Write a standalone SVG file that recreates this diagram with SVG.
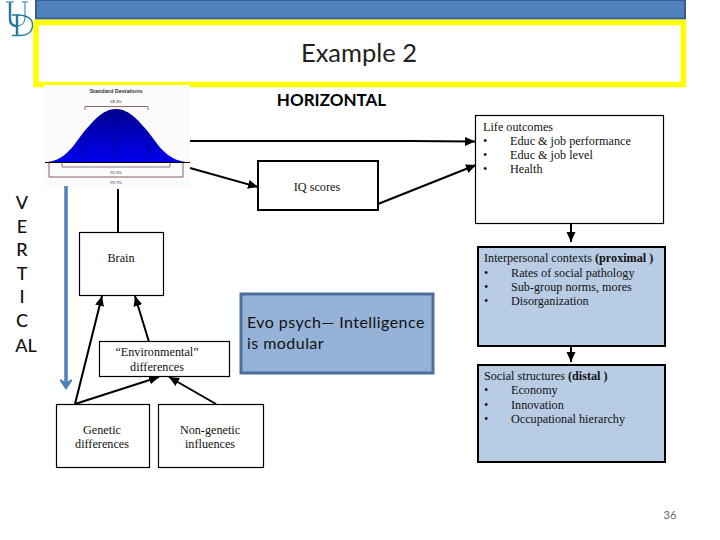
<svg xmlns="http://www.w3.org/2000/svg" width="720" height="540" viewBox="0 0 720 540">
<style>
.s{font-family:"Liberation Serif",serif;font-size:12.200px;fill:#111}
.c{font-family:Lato,"Open Sans",sans-serif;fill:#222}
.b{fill:#fff;stroke:#000;stroke-width:1.200}
.bb{fill:#b8cce4;stroke:#000;stroke-width:2}
.l{fill:none;stroke:#000;stroke-width:2}
</style>
<defs>
<marker id="a" markerUnits="userSpaceOnUse" markerWidth="12" markerHeight="10" refX="10" refY="4.500" orient="auto"><path d="M0 0L10 4.500L0 9Z" fill="#000"/></marker>
<linearGradient id="g" x1="0" y1="0" x2="0" y2="1"><stop offset="0" stop-color="#000090"/><stop offset="1" stop-color="#0000f0"/></linearGradient>
</defs>
<rect width="720" height="540" fill="#fff"/>
<g id="logo" fill="none" stroke="#1f7a9c">
<path d="M10 2.500V19Q10 26 17 26" stroke-width="2.400"/>
<path d="M17 26Q25 25 25 18V2.500" stroke-width="1"/>
<path d="M6 2H14M22 2H28" stroke-width="1"/>
<path d="M17 15V35" stroke-width="2.400"/>
<path d="M12 15H19Q32.500 16 32.500 25Q32.500 35.500 19 35.500H12" stroke-width="1.300"/>
</g>
<g id="header">
<rect x="36" y="0" width="649" height="18.500" fill="#4f81bd" stroke="#385d8a" stroke-width="2"/>
<rect x="36" y="22.500" width="647.500" height="62" fill="#fff" stroke="#ffff00" stroke-width="5.500"/>
<text class="c" x="359" y="62" font-size="25.500" text-anchor="middle">Example 2</text>
<text class="c" x="331.500" y="106" font-size="17" font-weight="700" text-anchor="middle" style="fill:#000">HORIZONTAL</text>
</g>
<g id="curve">
<rect x="44" y="85" width="146" height="103" fill="#fbfbfb"/>
<text x="116" y="93" font-family="Liberation Sans,sans-serif" font-size="5.500" font-weight="700" text-anchor="middle" fill="#333">Standard Deviations</text>
<text x="116" y="103" font-family="Liberation Sans,sans-serif" font-size="4" text-anchor="middle" fill="#333">68.3%</text>
<path d="M85 110V106.500H148V110" fill="none" stroke="#8a6a6a"/>
<path d="M45 162.500C70 160 75 140 90 125C100 113 108 109 116 109C124 109 132 113 142 125C157 140 162 160 189 162.500Z" fill="url(#g)"/>
<path d="M84 132V162M116 109V162M148 132V162" stroke="#000070" stroke-width="0.700"/>
<path d="M45 162.500H190" stroke="#000" stroke-width="1"/>
<path d="M62 163V167H170V163" fill="none" stroke="#8a7a7a"/>
<path d="M49 163V177H183V163" fill="none" stroke="#8a5a5a"/>
<text x="116" y="174" font-family="Liberation Sans,sans-serif" font-size="4" text-anchor="middle" fill="#333">95.5%</text>
<text x="116" y="184" font-family="Liberation Sans,sans-serif" font-size="4" text-anchor="middle" fill="#333">99.7%</text>
</g>
<g id="connectors">
<path class="l" d="M190 141H408L475 141.500" marker-end="url(#a)"/>
<path class="l" d="M190 168L258 187" marker-end="url(#a)"/>
<path class="l" d="M378 204L476 165" marker-end="url(#a)"/>
<path class="l" d="M118 189V232"/>
<path class="l" d="M75 404L102 296" marker-end="url(#a)"/>
<path class="l" d="M149 342L135 296" marker-end="url(#a)"/>
<path class="l" d="M75 404L159 377" marker-end="url(#a)"/>
<path class="l" d="M216 404L169 377" marker-end="url(#a)"/>
<path class="l" d="M571 223V242" marker-end="url(#a)"/>
<path class="l" d="M571 345V362" marker-end="url(#a)"/>
<path d="M66 186V384" stroke="#4f81bd" stroke-width="3.500" fill="none"/>
<path d="M60 379L66 382L72 379V381L66 390L60 381Z" fill="#4f81bd"/>
</g>
<g id="vertical" class="c" font-size="18" font-weight="500" text-anchor="middle" style="fill:#111">
<text x="22" y="209">V</text><text x="22" y="233">E</text><text x="22" y="256">R</text><text x="22" y="280">T</text><text x="22" y="303">I</text><text x="22" y="327">C</text><text x="26" y="352">AL</text>
</g>
<g id="iq"><rect class="b" x="258" y="161" width="120" height="49" style="stroke-width:2"/><text class="s" x="317" y="191" text-anchor="middle">IQ scores</text></g>
<g id="life"><rect class="b" x="475.500" y="115.500" width="188" height="108"/>
<text class="s" x="483" y="131">Life outcomes</text>
<text class="s" x="483" y="145">•</text><text class="s" x="510" y="145">Educ  &amp; job performance</text>
<text class="s" x="483" y="159">•</text><text class="s" x="510" y="159">Educ &amp; job level</text>
<text class="s" x="483" y="173">•</text><text class="s" x="510" y="173">Health</text></g>
<g id="interpersonal"><rect class="bb" x="478" y="247" width="187" height="99"/>
<text class="s" x="484" y="262">Interpersonal contexts <tspan font-weight="700">(proximal )</tspan></text>
<text class="s" x="484" y="277">•</text><text class="s" x="511" y="277">Rates of social pathology</text>
<text class="s" x="484" y="291">•</text><text class="s" x="511" y="291">Sub-group norms, mores</text>
<text class="s" x="484" y="305">•</text><text class="s" x="511" y="305">Disorganization</text></g>
<g id="social"><rect class="bb" x="478" y="365" width="187" height="97"/>
<text class="s" x="484" y="380">Social structures <tspan font-weight="700">(distal )</tspan></text>
<text class="s" x="484" y="394">•</text><text class="s" x="511" y="394">Economy</text>
<text class="s" x="484" y="409">•</text><text class="s" x="511" y="409">Innovation</text>
<text class="s" x="484" y="423">•</text><text class="s" x="511" y="423">Occupational hierarchy</text></g>
<g id="brain"><rect class="b" x="79.500" y="232.500" width="84" height="63"/><text class="s" x="121" y="262" text-anchor="middle">Brain</text></g>
<g id="env"><rect class="b" x="99.500" y="341.500" width="130" height="35"/><text class="s" x="157" y="356" text-anchor="middle">“Environmental”</text><text class="s" x="157" y="371" text-anchor="middle">differences</text></g>
<g id="genetic"><rect class="b" x="56.500" y="404.500" width="93" height="63"/><text class="s" x="102" y="434" text-anchor="middle">Genetic</text><text class="s" x="102" y="448" text-anchor="middle">differences</text></g>
<g id="nongenetic"><rect class="b" x="158.500" y="404.500" width="105" height="63"/><text class="s" x="210" y="434" text-anchor="middle">Non-genetic</text><text class="s" x="210" y="448" text-anchor="middle">influences</text></g>
<g id="evo"><rect x="241" y="294" width="192" height="79" fill="#95b3d7" stroke="#4a6f9c" stroke-width="3"/>
<text class="c" x="247" y="328" font-size="16" letter-spacing="0.450" style="fill:#111">Evo psych— Intelligence</text><text class="c" x="247" y="349" font-size="16" letter-spacing="0.450" style="fill:#111">is modular</text></g>
<text class="c" x="670" y="519" font-size="11" text-anchor="middle" style="fill:#666">36</text>
</svg>
